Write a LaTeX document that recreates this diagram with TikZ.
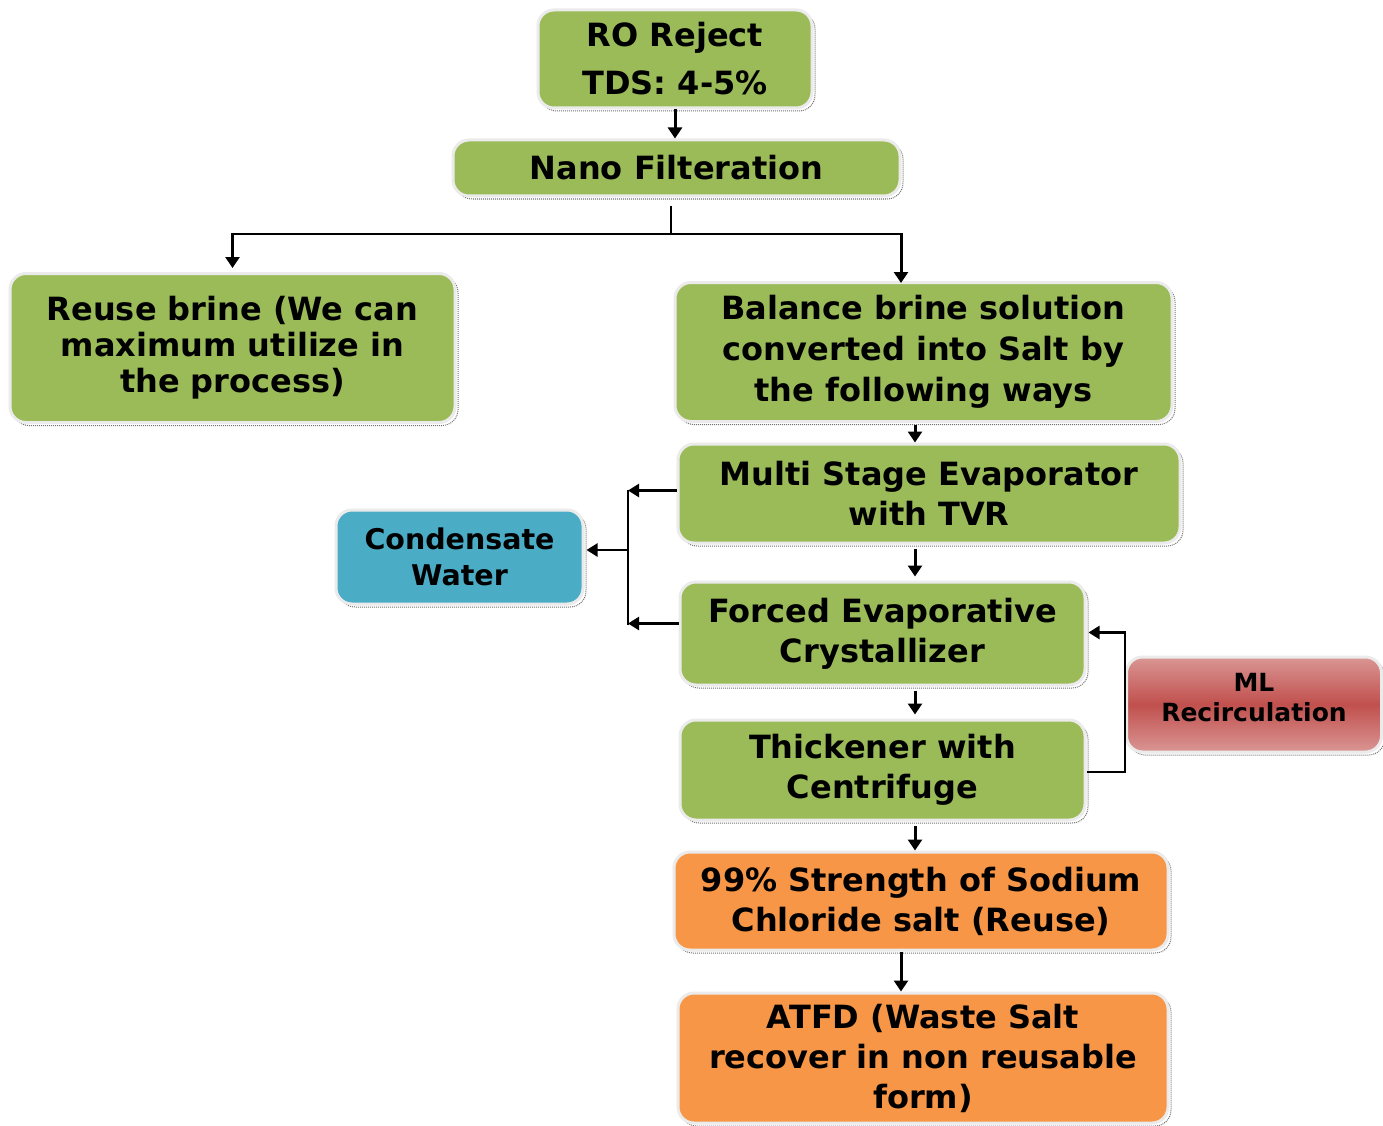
\documentclass[tikz,border=0pt]{standalone}
\usepackage{fontspec}
\setmainfont{DejaVu Sans}
\usetikzlibrary{arrows.meta}
\definecolor{grn}{HTML}{9BBB59}
\definecolor{blu}{HTML}{4BACC6}
\definecolor{org}{HTML}{F79646}
\definecolor{redd}{HTML}{C0504D}
\definecolor{redl}{HTML}{DA9694}
\begin{document}
\begin{tikzpicture}[x=1pt,y=-1pt,
  box/.style={rounded corners=16pt, draw=black!8, line width=3pt, align=center,
    inner sep=0pt, text=black,
    font=\bfseries\fontsize{32}{40}\selectfont,
    preaction={draw=black!55, densely dotted, line width=1pt,
      transform canvas={shift={(3pt,-3pt)}}}},
  gbox/.style={box, fill=grn},
  arr/.style={line width=3pt, -{Triangle[length=11pt,width=14pt]}},
  harr/.style={line width=2.5pt, -{Triangle[length=11pt,width=13pt]}},
  ln/.style={line width=2pt}]
\useasboundingbox[fill=white] (0,0) rectangle (1383,1126);

\node[gbox, minimum width=274pt, minimum height=98pt] (ro) at (675,59)
  {RO Reject\\[8pt]TDS: 4-5\%};
\node[gbox, minimum width=447pt, minimum height=56pt] (nano) at (676.5,168)
  {Nano Filteration};
\node[gbox, minimum width=445pt, minimum height=149pt,
  font=\bfseries\fontsize{32}{36}\selectfont] (reuse) at (232.5,348)
  {Reuse brine (We can\\maximum utilize in\\the process)};
\node[gbox, minimum width=497pt, minimum height=139pt,
  font=\bfseries\fontsize{32}{41}\selectfont] (bal) at (923.5,352)
  {Balance brine solution\\converted into Salt by\\the following ways};
\node[gbox, minimum width=502pt, minimum height=99pt] (multi) at (929,493.5)
  {Multi Stage Evaporator\\with TVR};
\node[box, fill=blu, minimum width=247pt, minimum height=94pt,
  font=\bfseries\fontsize{28.5}{36}\selectfont] (cond) at (459.5,557)
  {Condensate\\Water};
\node[gbox, minimum width=405pt, minimum height=103pt] (forced) at (882.5,633.5)
  {Forced Evaporative\\Crystallizer};
\node[box, shade, top color=redl, bottom color=redl, middle color=redd,
  minimum width=255pt, minimum height=95pt, text depth=14pt,
  font=\bfseries\fontsize{25}{30}\selectfont] (ml) at (1254,704.5)
  {ML\\Recirculation};
\node[gbox, minimum width=405pt, minimum height=100pt] (thick) at (882.5,770)
  {Thickener with\\Centrifuge};
\node[box, fill=org, minimum width=494pt, minimum height=98pt] (salt) at (921,901)
  {99\% Strength of Sodium\\Chloride salt (Reuse)};
\node[box, fill=org, minimum width=490pt, minimum height=130pt] (atfd) at (923,1058)
  {ATFD (Waste Salt\\recover in non reusable\\form)};

% connectors
\coordinate (split) at (671,234);
\coordinate (bt) at (901,234);
\coordinate (mx) at (915,0);
\coordinate (mx2) at (901,0);
\coordinate (cj) at (628,550);

\draw[arr] (ro.south) -- (ro.south |- nano.north);
\draw[ln, shorten <=8pt] (nano.south -| split) -- (split);
\draw[ln] (split) -- (split -| reuse.north);
\draw[arr] ([yshift=1pt]split -| reuse.north) -- ([yshift=4pt]reuse.north);
\draw[ln] (split) -- (bt);
\draw[arr] ([yshift=1pt]bt) -- ([yshift=-2pt]bt |- bal.north);
\draw[arr] ([yshift=-2pt]bal.south -| mx) -- (multi.north -| mx);
\draw[arr] ([yshift=-4pt]multi.south -| mx) -- ([yshift=4pt]forced.north -| mx);
\draw[arr] ([yshift=-4pt]forced.south -| mx) -- ([yshift=4pt]thick.north -| mx);
\draw[arr] ([yshift=-4pt]thick.south -| mx) -- (salt.north -| mx);
\draw[arr] (salt.south -| mx2) -- (atfd.north -| mx2);
\draw[ln] ([yshift=4pt]multi.west -| cj) -- ([yshift=9pt]forced.west -| cj);
\draw[harr] ([yshift=3pt]multi.west) -- ([yshift=3pt]multi.west -| cj);
\draw[harr] ([yshift=10pt]forced.west) -- ([yshift=10pt]forced.west -| cj);
\draw[harr] (cj) -- ([xshift=2pt]cond.east |- cj);
\draw[ln] ([yshift=-2pt]thick.east) -- ([yshift=-2pt]thick.east -| ml.west)
  -- ([yshift=1pt]forced.east -| ml.west);
\draw[harr] ([yshift=1pt,xshift=1pt]forced.east -| ml.west) -- ([yshift=1pt,xshift=2pt]forced.east);
\end{tikzpicture}
\end{document}
